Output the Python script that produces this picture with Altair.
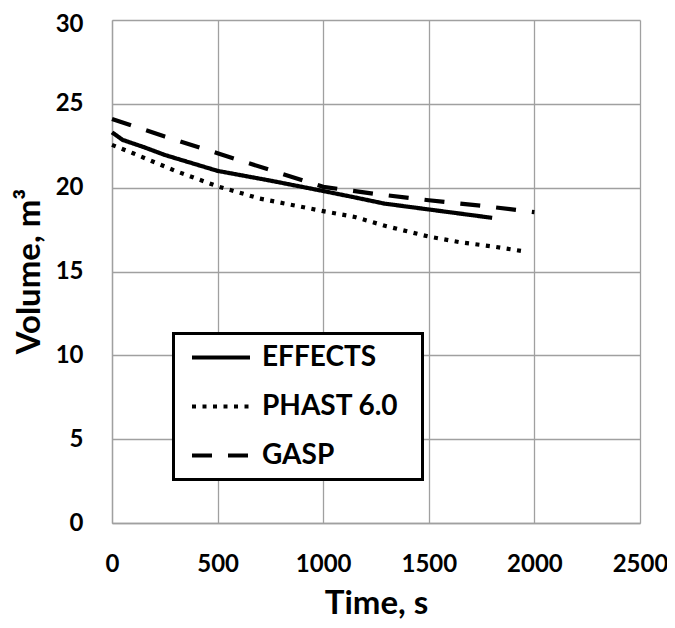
import altair as alt
import pandas as pd

# ---- data ----
series_names = ["EFFECTS", "PHAST 6.0", "GASP"]

effects_t = [0, 50, 150, 250, 500, 750, 1000, 1130, 1290, 1500, 1800]
effects_v = [23.3, 22.85, 22.42, 21.95, 21.0, 20.42, 19.8, 19.47, 19.05, 18.7, 18.2]

phast_t = [0, 100, 300, 500, 700, 1000, 1150, 1300, 1500, 1650, 1800, 1950]
phast_v = [22.55, 22.05, 21.0, 20.08, 19.35, 18.6, 18.25, 17.7, 17.08, 16.74, 16.5, 16.2]

gasp_t = [0, 250, 500, 750, 1000, 1250, 1500, 1750, 2000]
gasp_v = [24.1, 23.05, 22.05, 21.05, 20.05, 19.62, 19.25, 18.92, 18.54]

x_ticks = [0, 500, 1000, 1500, 2000, 2500]
y_ticks = [0, 5, 10, 15, 20, 25, 30]

rows = []
for name, ts, vs in zip(series_names, [effects_t, phast_t, gasp_t], [effects_v, phast_v, gasp_v]):
    for t, v in zip(ts, vs):
        rows.append({"series": name, "time": t, "volume": v})
df = pd.DataFrame(rows)

FONT = "Lato"
GRID = "#a0a0a0"

chart = (
    alt.Chart(df)
    .mark_line(color="black", strokeWidth=4.2, strokeCap="butt")
    .encode(
        x=alt.X(
            "time:Q",
            scale=alt.Scale(domain=[0, 2500], nice=False),
            axis=alt.Axis(
                values=x_ticks,
                format="d",
                labelFlush=False,
                title="Time, s",
                titleX=264,
                titleY=90,
                titleBaseline="alphabetic",
                titleAlign="center",
                labelPadding=29,
            ),
        ),
        y=alt.Y(
            "volume:Q",
            scale=alt.Scale(domain=[0, 30], nice=False),
            axis=alt.Axis(
                values=y_ticks,
                title="Volume, m³",
                titleAngle=270,
                titleX=-73,
                titleY=251,
                titleBaseline="alphabetic",
                titleAlign="center",
                labelPadding=29,
                labelOffset={"condition": {"test": "datum.value == 30", "value": 4}, "value": 0},
            ),
        ),
        strokeDash=alt.StrokeDash(
            "series:N",
            scale=alt.Scale(
                domain=series_names,
                range=[[1, 0], [4, 6.5], [20, 16]],
            ),
            legend=alt.Legend(
                title=None,
                orient="none",
                legendX=61.5,
                legendY=313.5,
                strokeColor="black",
                fillColor="white",
                padding=10,
                rowPadding=21,
                symbolType="M-2.9,0H2.9",
                symbolSize=400,
                symbolOffset=23.5,
                symbolStrokeWidth=4,
                symbolStrokeColor="black",
                labelOffset=27,
                labelExpr="datum.label + '\u2002\u200b'",
                labelFont=FONT,
                labelFontSize=28,
                labelFontWeight="bold",
                labelColor="black",
                labelLimit=300,
            ),
        ),
        order=alt.Order("time:Q"),
    )
    .properties(
        width=528,
        height=503,
        autosize=alt.AutoSizeParams(type="none"),
        padding={"left": 104, "top": 12, "right": 27, "bottom": 97},
    )
    .configure_view(stroke=None)
    .configure_legend(strokeWidth=3)
    .configure_axis(
        labelFont=FONT,
        labelFontSize=24,
        labelFontWeight="bold",
        labelColor="black",
        titleFont=FONT,
        titleFontSize=33,
        titleFontWeight="bold",
        titleColor="black",
        grid=True,
        gridColor=GRID,
        gridWidth=1.3,
        domainColor=GRID,
        domainWidth=1.3,
        ticks=False,
    )
)

chart.save("out.html", embed_options={"renderer": "svg", "actions": False})
